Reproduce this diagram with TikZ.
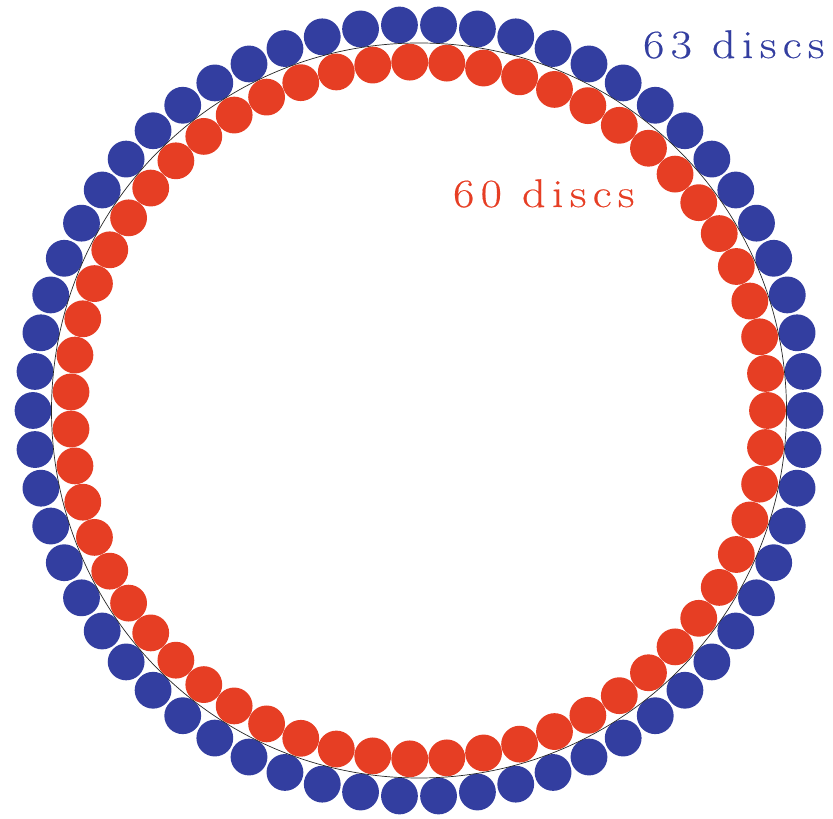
\documentclass[tikz,border=0pt]{standalone}
\usepackage{fontspec}
\newfontfamily\spacedfont[LetterSpace=16,FakeBold=0.4,FakeStretch=1.15]{Latin Modern Roman}
\definecolor{discblue}{RGB}{51,62,160}
\definecolor{discred}{RGB}{230,62,36}
\begin{document}
\begin{tikzpicture}[x=1pt,y=1pt,
  bluedisc/.style={fill=discblue,draw=none},
  reddisc/.style={fill=discred,draw=none},
  guide/.style={draw=black!85,line width=0.7pt},
  lbl/.style={font=\spacedfont\fontsize{40}{45}\selectfont,anchor=base west,inner sep=0pt}]
\useasboundingbox (0,0) rectangle (833,819);
\coordinate (c) at (419,408.5);
\begin{scope}[shift={(419,408.5)}]
\foreach \k in {0,...,61}{
  \fill[bluedisc] ({\k*5.80645}:386) circle (18.4);
}
\foreach \k in {0,...,58}{
  \fill[reddisc] ({\k*6.10169}:348.5) circle (18.4);
}
\end{scope}
\draw[guide] (c) circle (367.5);
\node[lbl,text=discblue] (t63) at (643,761) {63 discs};
\node[lbl,text=discred] (t60) at (453,612) {60 discs};
\end{tikzpicture}
\end{document}
